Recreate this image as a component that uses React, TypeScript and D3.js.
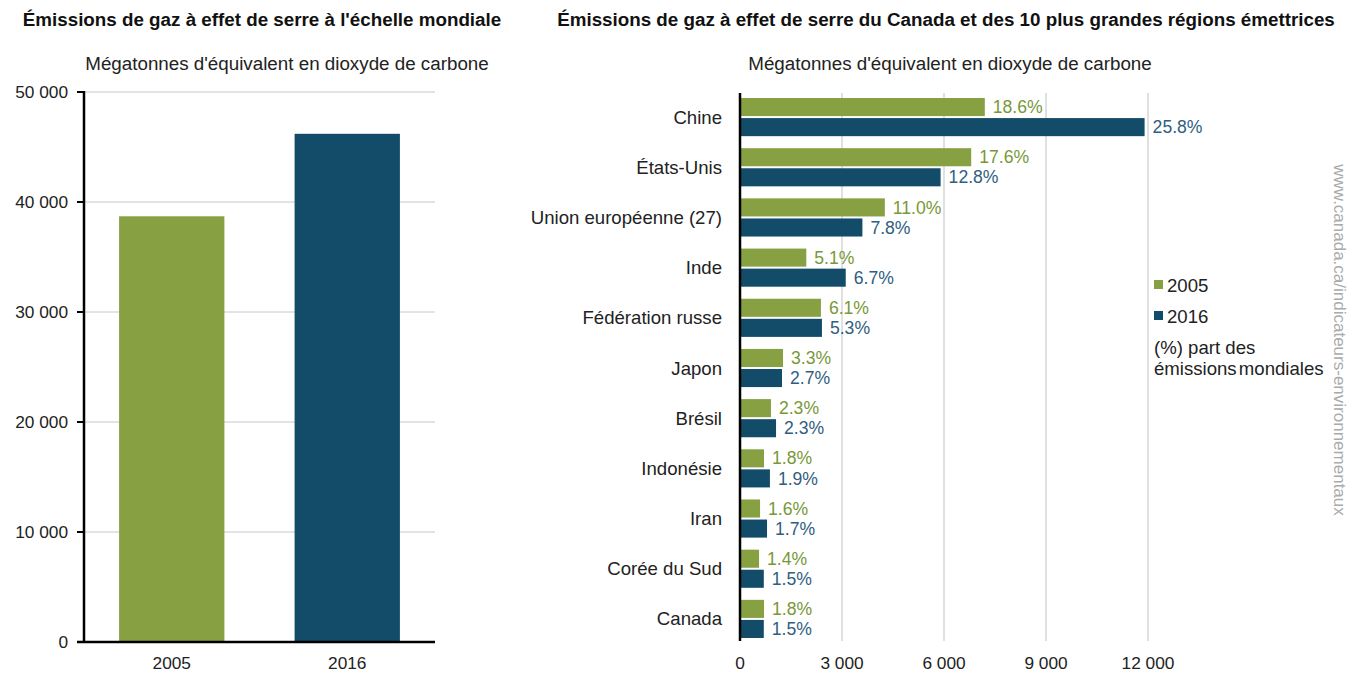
import React from 'react';
import * as d3 from 'd3';

const FONT = '"Liberation Sans", Arial, sans-serif';
const GREEN = '#86a042';
const BLUE = '#124c69';
const GREEN_TXT = '#789838';
const BLUE_TXT = '#2f5e80';

// left chart: global totals
const years = ['2005', '2016'];
const globalTotals = [38700, 46200];
const leftTicks = [0, 10000, 20000, 30000, 40000, 50000];

// right chart: top emitters
const regions = [
  'Chine', 'États-Unis', 'Union européenne (27)', 'Inde', 'Fédération russe',
  'Japon ', 'Brésil', 'Indonésie', 'Iran', 'Corée du Sud', 'Canada',
];
const emissions2005 = [7200, 6800, 4260, 1950, 2380, 1265, 910, 706, 590, 560, 706];
const emissions2016 = [11900, 5900, 3600, 3110, 2410, 1235, 1060, 880, 795, 700, 700];
const share2005 = ['18.6%', '17.6%', '11.0%', '5.1%', '6.1%', '3.3%', '2.3%', '1.8%', '1.6%', '1.4%', '1.8%'];
const share2016 = ['25.8%', '12.8%', '7.8%', '6.7%', '5.3%', '2.7%', '2.3%', '1.9%', '1.7%', '1.5%', '1.5%'];
const rightTicks = [0, 3000, 6000, 9000, 12000];

const fmt = (v: number) => d3.format(',')(v).replace(/,/g, ' ');

const App: React.FC = () => {
  // left scales
  const ly = d3.scaleLinear().domain([0, 50000]).range([642, 92]);
  const lx = d3.scaleBand().domain(years).range([84, 435]).paddingInner(0.4).paddingOuter(0.2);

  // right scales
  const rx = d3.scaleLinear().domain([0, 12000]).range([740, 1148]);
  const ry = d3.scaleBand().domain(regions).range([93, 643]).paddingInner(0.24).paddingOuter(0.1);
  const bh = ry.bandwidth() / 2 - 1;

  return (
    <svg width={1354} height={675} style={{ position: 'absolute', left: 0, top: 0, fontFamily: FONT }}>
      <rect width={1354} height={675} fill="#fff" />

      {/* titles */}
      <text x={262} y={26} textAnchor="middle" fontSize={18.8} fontWeight="bold" fill="#111">
        Émissions de gaz à effet de serre à l'échelle mondiale
      </text>
      <text x={946} y={26} textAnchor="middle" fontSize={18.8} fontWeight="bold" fill="#111">
        Émissions de gaz à effet de serre du Canada et des 10 plus grandes régions émettrices
      </text>

      {/* left chart */}
      <text x={287} y={70} textAnchor="middle" fontSize={18.8} fill="#222">
        Mégatonnes d'équivalent en dioxyde de carbone
      </text>
      {leftTicks.map(t => (
        <g key={t}>
          {t > 0 && <line x1={84} x2={435} y1={ly(t)} y2={ly(t)} stroke="#c8c8c8" strokeWidth={1} />}
          <line x1={77} x2={84} y1={ly(t)} y2={ly(t)} stroke="#000" strokeWidth={2} />
          <text x={68} y={ly(t)} dy="0.35em" textAnchor="end" fontSize={17.3} fill="#222">{fmt(t)}</text>
        </g>
      ))}
      {years.map((y, i) => (
        <g key={y}>
          <rect x={lx(y)} y={ly(globalTotals[i])} width={lx.bandwidth()} height={ly(0) - ly(globalTotals[i])}
            fill={i === 0 ? GREEN : BLUE} />
          <text x={(lx(y) ?? 0) + lx.bandwidth() / 2} y={669} textAnchor="middle" fontSize={17.3} fill="#222">{y}</text>
        </g>
      ))}
      <line x1={84} x2={84} y1={91} y2={643} stroke="#000" strokeWidth={2.5} />
      <line x1={77} x2={435} y1={642} y2={642} stroke="#000" strokeWidth={2.5} />

      {/* right chart */}
      <text x={950} y={70} textAnchor="middle" fontSize={18.8} fill="#222">
        Mégatonnes d'équivalent en dioxyde de carbone
      </text>
      {rightTicks.map(t => (
        <g key={t}>
          {t > 0 && <line x1={rx(t)} x2={rx(t)} y1={93} y2={641} stroke="#d6d6d6" strokeWidth={1.5} />}
          <text x={rx(t)} y={669} textAnchor="middle" fontSize={17.3} fill="#222">{fmt(t)}</text>
        </g>
      ))}
      {regions.map((r, i) => {
        const y0 = ry(r) ?? 0;
        return (
          <g key={r}>
            <text x={722} y={y0 + ry.bandwidth() / 2} dy="0.35em" textAnchor="end" fontSize={18.6} fill="#222">{r}</text>
            <rect x={rx(0)} y={y0} width={rx(emissions2005[i]) - rx(0)} height={bh} fill={GREEN} />
            <rect x={rx(0)} y={y0 + bh + 2} width={rx(emissions2016[i]) - rx(0)} height={bh} fill={BLUE} />
            <text x={rx(emissions2005[i]) + 8} y={y0 + bh / 2} dy="0.35em" fontSize={17.6} fill={GREEN_TXT}>{share2005[i]}</text>
            <text x={rx(emissions2016[i]) + 8} y={y0 + bh + 2 + bh / 2} dy="0.35em" fontSize={17.6} fill={BLUE_TXT}>{share2016[i]}</text>
          </g>
        );
      })}
      <line x1={740} x2={740} y1={93} y2={641} stroke="#000" strokeWidth={2.5} />

      {/* legend */}
      <rect x={1154} y={280} width={9} height={9} fill={GREEN} />
      <text x={1167} y={285} dy="0.35em" fontSize={18.6} fill="#222">2005</text>
      <rect x={1154} y={311} width={9} height={9} fill={BLUE} />
      <text x={1167} y={316} dy="0.35em" fontSize={18.6} fill="#222">2016</text>
      <text x={1154} y={347} dy="0.35em" fontSize={18.6} fill="#222">(%) part des</text>
      <text x={1154} y={368} dy="0.35em" fontSize={18.6} fill="#222" wordSpacing={-3}>émissions mondiales</text>

      {/* source */}
      <text transform="translate(1334,340) rotate(90)" textAnchor="middle" fontSize={17} fill="#aaa">
        www.canada.ca/indicateurs-environnementaux
      </text>
    </svg>
  );
};

export default App;
